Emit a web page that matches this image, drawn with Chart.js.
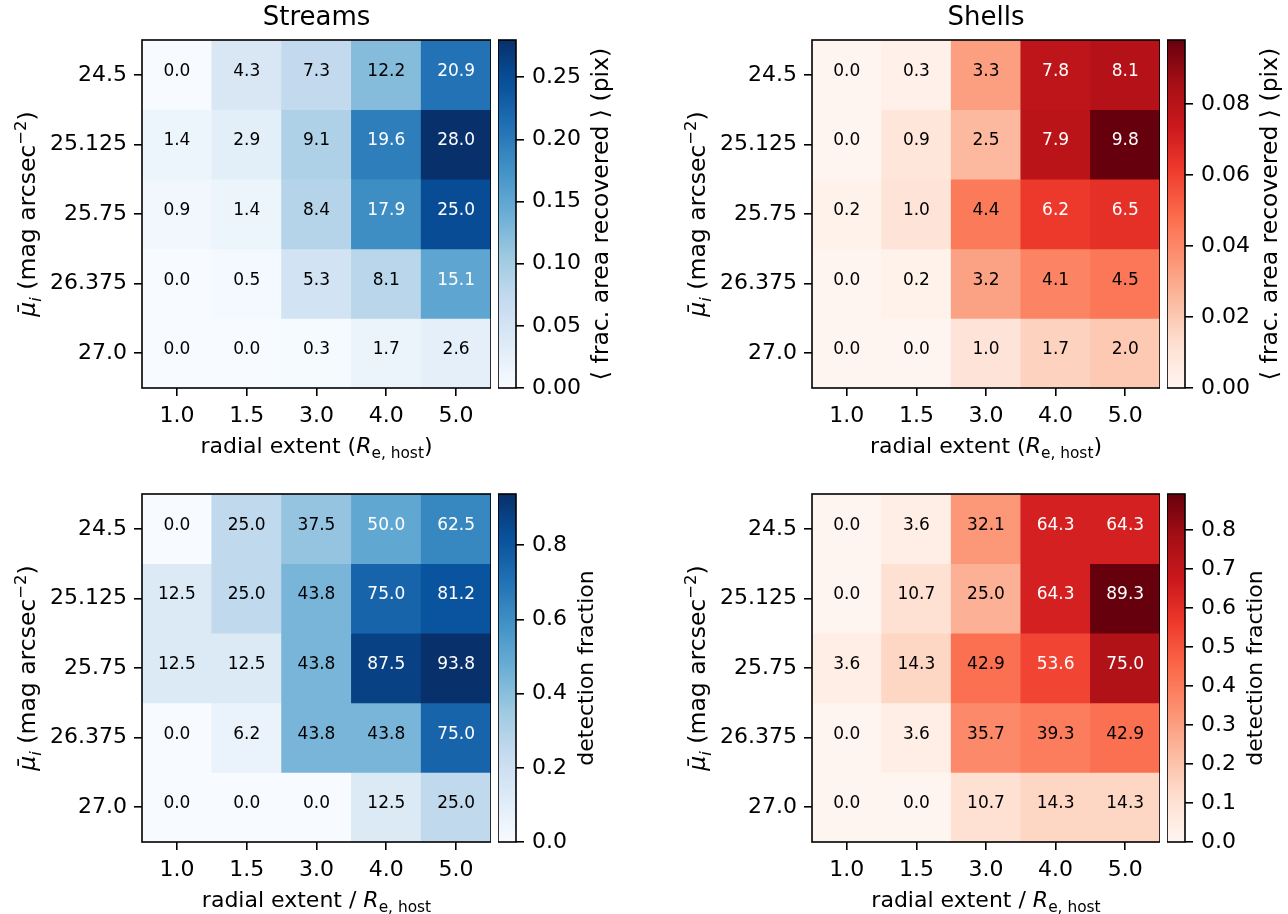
<!DOCTYPE html>
<html>
<head>
<meta charset="utf-8">
<script src="https://cdn.jsdelivr.net/npm/chart.js@4.4.0/dist/chart.umd.min.js"></script>
<style>
    body { margin: 0; background: #fff; width: 1288px; height: 914px; position: relative; overflow: hidden; }
    canvas { position: absolute; }
</style>
</head>
<body>
<script>

/* =========================
   DATA
========================= */

const xLabels = ["1.0", "1.5", "3.0", "4.0", "5.0"];
const yLabels = ["24.5", "25.125", "25.75", "26.375", "27.0"];

// rows follow yLabels, columns follow xLabels
const streamsArea = [
    [0.0, 4.3, 7.3, 12.2, 20.9],
    [1.4, 2.9, 9.1, 19.6, 28.0],
    [0.9, 1.4, 8.4, 17.9, 25.0],
    [0.0, 0.5, 5.3, 8.1, 15.1],
    [0.0, 0.0, 0.3, 1.7, 2.6]
];

const shellsArea = [
    [0.0, 0.3, 3.3, 7.8, 8.1],
    [0.0, 0.9, 2.5, 7.9, 9.8],
    [0.2, 1.0, 4.4, 6.2, 6.5],
    [0.0, 0.2, 3.2, 4.1, 4.5],
    [0.0, 0.0, 1.0, 1.7, 2.0]
];

const streamsDet = [
    [0.0, 25.0, 37.5, 50.0, 62.5],
    [12.5, 25.0, 43.8, 75.0, 81.2],
    [12.5, 12.5, 43.8, 87.5, 93.8],
    [0.0, 6.2, 43.8, 43.8, 75.0],
    [0.0, 0.0, 0.0, 12.5, 25.0]
];

const shellsDet = [
    [0.0, 3.6, 32.1, 64.3, 64.3],
    [0.0, 10.7, 25.0, 64.3, 89.3],
    [3.6, 14.3, 42.9, 53.6, 75.0],
    [0.0, 3.6, 35.7, 39.3, 42.9],
    [0.0, 0.0, 10.7, 14.3, 14.3]
];

const cbTicksStreamsArea = [0, 0.05, 0.10, 0.15, 0.20, 0.25];
const cbTicksShellsArea = [0, 0.02, 0.04, 0.06, 0.08];
const cbTicksStreamsDet = [0, 0.2, 0.4, 0.6, 0.8];
const cbTicksShellsDet = [0, 0.1, 0.2, 0.3, 0.4, 0.5, 0.6, 0.7, 0.8];

const xTitleTop = ["radial extent (", { t: "R", it: true }, { t: "e, host", sub: true }, ")"];
const xTitleBottom = ["radial extent / ", { t: "R", it: true }, { t: "e, host", sub: true }];
const yTitle = [{ t: "\u03bc\u0304", it: true }, { t: "i", it: true, sub: true }, " (mag arcsec", { t: "\u22122", sup: true }, ")"];

const BLUES = ["#f7fbff", "#deebf7", "#c6dbef", "#9ecae1", "#6baed6", "#4292c6", "#2171b5", "#08519c", "#08306b"];
const REDS = ["#fff5f0", "#fee0d2", "#fcbba1", "#fc9272", "#fb6a4a", "#ef3b2c", "#cb181d", "#a50f15", "#67000d"];

const FONT = "'DejaVu Sans'";
const BASE = 22;

Chart.defaults.font.family = FONT + ", sans-serif";
Chart.defaults.color = "#000";


/* =========================
   HELPERS
========================= */

function hexToRgb(h) {
    return [1, 3, 5].map(i => parseInt(h.slice(i, i + 2), 16));
}

function cmap(stops, t) {

    t = Math.min(1, Math.max(0, t));

    const pos = t * (stops.length - 1);
    const i = Math.min(Math.floor(pos), stops.length - 2);
    const f = pos - i;

    const a = hexToRgb(stops[i]);
    const b = hexToRgb(stops[i + 1]);

    const c = a.map((v, k) => Math.round(v + (b[k] - v) * f));

    return "rgb(" + c.join(",") + ")";
}

// text made of plain / italic / sub / sup pieces, centred on (x, y)
function drawRich(ctx, parts, x, y, size, rotate) {

    const pieces = parts.map(p => typeof p === "string" ? { t: p } : Object.assign({}, p));

    ctx.save();
    ctx.translate(x, y);
    if (rotate) ctx.rotate(-Math.PI / 2);

    let total = 0;

    pieces.forEach(p => {
        p.size = (p.sub || p.sup) ? size * 0.7 : size;
        p.font = (p.it ? "italic " : "") + p.size + "px " + FONT;
        ctx.font = p.font;
        p.w = ctx.measureText(p.t).width;
        total += p.w;
    });

    let cx = -total / 2;

    ctx.textAlign = "left";
    ctx.textBaseline = "alphabetic";
    ctx.fillStyle = "#000";

    pieces.forEach(p => {
        let dy = size * 0.36;
        if (p.sub) dy += size * 0.22;
        if (p.sup) dy -= size * 0.42;
        ctx.font = p.font;
        ctx.fillText(p.t, cx, dy);
        cx += p.w;
    });

    ctx.restore();
}

function addCanvas(left, top, width, height) {

    const c = document.createElement("canvas");
    c.width = width;
    c.height = height;
    c.style.left = left + "px";
    c.style.top = top + "px";
    c.style.width = width + "px";
    c.style.height = height + "px";
    document.body.appendChild(c);

    return c;
}


/* =========================
   PLUGINS
========================= */

const frame = {
    id: "frame",
    afterDraw(chart) {
        const { ctx, chartArea: a } = chart;
        ctx.save();
        ctx.strokeStyle = "#000";
        ctx.lineWidth = 1.6;
        ctx.strokeRect(a.left, a.top, a.right - a.left, a.bottom - a.top);
        ctx.restore();
    }
};

function cellText(values, max) {
    return {
        id: "cellText",
        afterDatasetsDraw(chart) {
            const { ctx, scales: { x, y } } = chart;
            ctx.save();
            ctx.font = "17px " + FONT;
            ctx.textAlign = "center";
            ctx.textBaseline = "alphabetic";
            values.forEach((row, r) => {
                row.forEach((v, c) => {
                    ctx.fillStyle = v > max / 2 ? "#fff" : "#000";
                    ctx.fillText(v.toFixed(1), x.getPixelForValue(c), y.getPixelForValue(r) + 1);
                });
            });
            ctx.restore();
        }
    };
}

function axisTitles(p) {
    return {
        id: "axisTitles",
        afterDraw(chart) {
            const { ctx, chartArea: a } = chart;
            drawRich(ctx, p.xTitle, (a.left + a.right) / 2, a.bottom + 57, BASE, false);
            drawRich(ctx, yTitle, a.left - 115, (a.top + a.bottom) / 2, 23.5, true);
        }
    };
}

function cbLabel(p) {
    return {
        id: "cbLabel",
        afterDraw(chart) {
            const { ctx, chartArea: a } = chart;
            drawRich(ctx, [p.cbLabel], a.right + p.cbLabelGap, (a.top + a.bottom) / 2, p.cbLabelSize, true);
        }
    };
}


/* =========================
   PANELS
========================= */

const panels = [
    {
        left: 0, top: 0, plotRight: 491, cbLeft: 498,
        values: streamsArea, colors: BLUES, title: "Streams", xTitle: xTitleTop,
        cbTicks: cbTicksStreamsArea, cbDigits: 2,
        cbLabel: "\u27e8 frac. area recovered \u27e9 (pix)", cbLabelGap: 84, cbLabelSize: 23.5
    },
    {
        left: 670, top: 0, plotRight: 1160, cbLeft: 1167,
        values: shellsArea, colors: REDS, title: "Shells", xTitle: xTitleTop,
        cbTicks: cbTicksShellsArea, cbDigits: 2,
        cbLabel: "\u27e8 frac. area recovered \u27e9 (pix)", cbLabelGap: 84, cbLabelSize: 23.5
    },
    {
        left: 0, top: 454, plotRight: 491, cbLeft: 498,
        values: streamsDet, colors: BLUES, title: null, xTitle: xTitleBottom,
        cbTicks: cbTicksStreamsDet, cbDigits: 1,
        cbLabel: "detection fraction", cbLabelGap: 69, cbLabelSize: BASE
    },
    {
        left: 670, top: 454, plotRight: 1160, cbLeft: 1167,
        values: shellsDet, colors: REDS, title: null, xTitle: xTitleBottom,
        cbTicks: cbTicksShellsDet, cbDigits: 1,
        cbLabel: "detection fraction", cbLabelGap: 69, cbLabelSize: BASE
    }
];

const tickGrid = {
    drawOnChartArea: false,
    drawTicks: true,
    tickLength: 8,
    color: "#000",
    lineWidth: 1.6
};


function heatmap(p) {

    const canvas = addCanvas(p.left, p.top, p.plotRight - p.left, 460);

    const max = Math.max(...p.values.flat());

    // one floating-bar dataset per row
    const datasets = p.values.map((row, r) => ({
        data: row.map(() => [r - 0.505, r + 0.505]),
        backgroundColor: row.map(v => cmap(p.colors, v / max)),
        borderWidth: 0,
        barPercentage: 1.01,
        categoryPercentage: 1
    }));

    new Chart(canvas, {

        type: "bar",

        data: { labels: xLabels, datasets },

        options: {
            responsive: false,
            animation: false,
            events: [],
            layout: { padding: { top: p.title ? 0 : 40, left: 0, right: 0, bottom: 0 } },
            plugins: {
                legend: { display: false },
                tooltip: { enabled: false },
                title: {
                    display: !!p.title,
                    text: p.title || "",
                    fullSize: false,
                    color: "#000",
                    font: { size: 26, weight: "normal", lineHeight: 1.2 },
                    padding: { top: 3, bottom: 5.8 }
                }
            },
            scales: {
                x: {
                    type: "category",
                    offset: true,
                    stacked: true,
                    grid: Object.assign({ offset: false }, tickGrid),
                    border: { display: false },
                    ticks: { color: "#000", font: { size: BASE }, padding: 7, maxRotation: 0 },
                    afterFit: s => { s.height = 72; }
                },
                y: {
                    type: "linear",
                    min: -0.5,
                    max: 4.5,
                    reverse: true,
                    stacked: false,
                    grid: tickGrid,
                    border: { display: false },
                    afterBuildTicks: s => { s.ticks = yLabels.map((_, i) => ({ value: i })); },
                    ticks: {
                        color: "#000",
                        font: { size: BASE },
                        padding: 7,
                        callback: v => yLabels[v]
                    },
                    afterFit: s => { s.width = 142; }
                }
            }
        },

        plugins: [cellText(p.values, max), frame, axisTitles(p)]

    });

    return max;
}


function colorbar(p, max) {

    const W = 121;
    const canvas = addCanvas(p.cbLeft, p.top, W, 460);

    new Chart(canvas, {

        type: "bar",

        data: {
            labels: [""],
            datasets: [{
                data: [[0, max / 100]],
                borderWidth: 0,
                barPercentage: 1,
                categoryPercentage: 1,
                backgroundColor: ctx => {
                    const chart = ctx.chart;
                    const ys = chart.scales.y;
                    if (!chart.chartArea || !ys) return p.colors[0];
                    const g = chart.ctx.createLinearGradient(0, ys.getPixelForValue(0), 0, ys.getPixelForValue(max / 100));
                    for (let i = 0; i <= 32; i++) g.addColorStop(i / 32, cmap(p.colors, i / 32));
                    return g;
                }
            }]
        },

        options: {
            responsive: false,
            animation: false,
            events: [],
            layout: { padding: { top: 40, bottom: 72, left: 0, right: 0 } },
            plugins: {
                legend: { display: false },
                tooltip: { enabled: false }
            },
            scales: {
                x: { display: false },
                y: {
                    position: "right",
                    min: 0,
                    max: max / 100,
                    grid: tickGrid,
                    border: { display: false },
                    afterBuildTicks: s => { s.ticks = p.cbTicks.map(v => ({ value: v })); },
                    ticks: {
                        color: "#000",
                        font: { size: BASE },
                        padding: 8,
                        callback: v => Number(v).toFixed(p.cbDigits)
                    },
                    afterFit: s => { s.width = W - 18; }
                }
            }
        },

        plugins: [frame, cbLabel(p)]

    });
}


panels.forEach(p => {
    const max = heatmap(p);
    colorbar(p, max);
});

</script>
</body>
</html>
